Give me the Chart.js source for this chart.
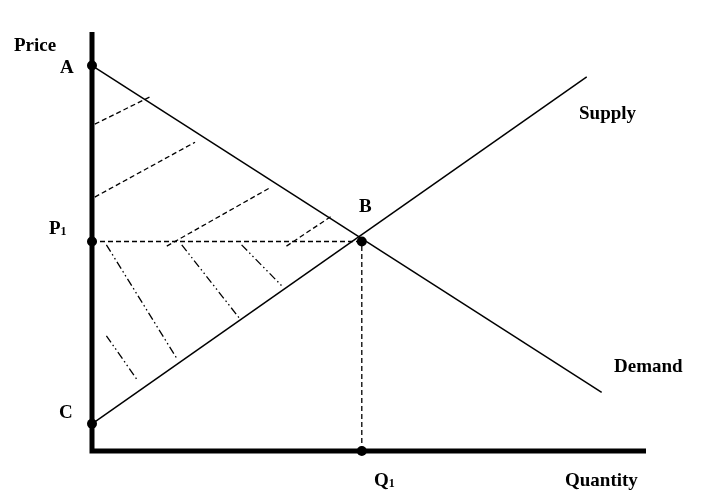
<!DOCTYPE html>
<html>
<head>
<meta charset="utf-8">
<script src="https://cdn.jsdelivr.net/npm/chart.js@4"></script>
<style>
  html, body { margin: 0; padding: 0; background: #fff; }
  #wrap { width: 702px; height: 498px; }
</style>
</head>
<body>
<div id="wrap"><canvas id="surplusChart" width="702" height="498"></canvas></div>
<script>
// axis ranges (quantity 0-100, price 0-100)
const qRange = [0, 100];
const pRange = [0, 100];

// curves
const demandQ = [0, 92];
const demandP = [92, 14];
const supplyQ = [0, 89.3];
const supplyP = [6.5, 89.3];

// marked points: A, C, P1, B, Q1
const pointNames = ['A', 'C', 'P1', 'B', 'Q1'];
const pointQ = [0, 0, 0, 48.7, 48.7];
const pointP = [92, 6.5, 50, 50, 0];

// consumer surplus hatching (dashed), each [q0, p0, q1, p1]
const consumerHatch = [
  [0.5, 78.0, 10.6, 84.6],
  [0.5, 60.6, 18.6, 73.7],
  [13.5, 48.9, 32.1, 62.8],
  [35.1, 48.9, 43.3, 56.1]
];

// producer surplus hatching (dash-dot-dot)
const producerHatch = [
  [2.6, 49.2, 15.3, 22.1],
  [16.2, 49.2, 26.6, 31.7],
  [27.0, 49.2, 34.2, 39.5],
  [2.6, 27.5, 8.2, 16.9]
];

const seg = (q0, p0, q1, p1) => [{ x: q0, y: p0 }, { x: q1, y: p1 }];

const datasets = [];

// dots
datasets.push({
  data: pointQ.map((q, i) => ({ x: q, y: pointP[i] })),
  showLine: false,
  pointRadius: 5,
  pointBackgroundColor: '#000',
  pointBorderWidth: 0
});

// guide lines from B
datasets.push({ data: seg(0, pointP[3], pointQ[3], pointP[3]), borderDash: [5, 3], borderWidth: 1.3 });
datasets.push({ data: seg(pointQ[4], 0, pointQ[3], pointP[3]), borderDash: [5, 3], borderWidth: 1.3 });

consumerHatch.forEach(h => datasets.push({ data: seg(...h), borderDash: [5, 3], borderWidth: 1.3 }));
producerHatch.forEach(h => datasets.push({ data: seg(...h), borderDash: [8, 3, 1.5, 3, 1.5, 3], borderWidth: 1.3 }));

// demand & supply
datasets.push({ data: seg(demandQ[0], demandP[0], demandQ[1], demandP[1]), borderWidth: 1.5 });
datasets.push({ data: seg(supplyQ[0], supplyP[0], supplyQ[1], supplyP[1]), borderWidth: 1.5 });

// axes
datasets.push({
  data: [{ x: 0, y: pRange[1] }, { x: 0, y: 0 }, { x: qRange[1], y: 0 }],
  borderWidth: 5,
  borderJoinStyle: 'miter',
  borderCapStyle: 'butt'
});

datasets.forEach(d => {
  d.showLine = d.showLine !== false;
  d.borderColor = '#000';
  d.borderWidth = d.borderWidth || 1;
  if (d.pointRadius === undefined) d.pointRadius = 0;
  d.clip = false;
  d.tension = 0;
});

// text labels
const labelPlugin = {
  id: 'labels',
  afterDraw(chart) {
    const ctx = chart.ctx;
    ctx.save();
    ctx.fillStyle = '#000';
    ctx.textBaseline = 'alphabetic';
    const big = 'bold 19px "Liberation Serif", "Times New Roman", serif';
    const small = 'bold 12px "Liberation Serif", "Times New Roman", serif';
    const put = (txt, x, y) => { ctx.font = big; ctx.fillText(txt, x, y); };
    const sub = (main, s, x, y) => {
      ctx.font = big;
      ctx.fillText(main, x, y);
      const w = ctx.measureText(main).width;
      ctx.font = small;
      ctx.fillText(s, x + w, y + 1);
    };
    put('Price', 14, 51);
    put('A', 60, 72.5);
    sub('P', '1', 49, 234);
    put('B', 359, 211.5);
    put('C', 59, 418);
    sub('Q', '1', 374, 486);
    put('Quantity', 565, 486);
    put('Supply', 579, 119);
    put('Demand', 614, 372);
    ctx.restore();
  }
};

new Chart(document.getElementById('surplusChart'), {
  type: 'scatter',
  data: { datasets },
  options: {
    responsive: false,
    animation: false,
    layout: { padding: { left: 92, right: 56, top: 32, bottom: 47 } },
    plugins: { legend: { display: false }, tooltip: { enabled: false } },
    scales: {
      x: { type: 'linear', min: qRange[0], max: qRange[1], display: false },
      y: { type: 'linear', min: pRange[0], max: pRange[1], display: false }
    }
  },
  plugins: [labelPlugin]
});
</script>
</body>
</html>
